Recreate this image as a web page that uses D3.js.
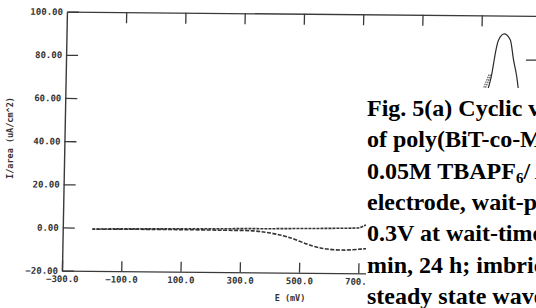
<!DOCTYPE html>
<html>
<head>
<meta charset="utf-8">
<script src="https://cdn.jsdelivr.net/npm/d3@7/dist/d3.min.js"></script>
<style>
  body { margin: 0; background: #fff; }
  svg { display: block; }
</style>
</head>
<body>
<svg id="chart" width="536" height="308"></svg>
<script>
// forward scan (E in mV, I in uA/cm^2)
var fwdE = [-200, -100, 0, 100, 200, 300, 400, 500, 600, 694, 724, 800, 900, 1000, 1060, 1100, 1128, 1138, 1143, 1150, 1158, 1177, 1198, 1210, 1222, 1227, 1245, 1265, 1290];
var fwdI = [-0.6, -0.4, -0.3, -0.1, 0, 0.2, 0.3, 0.5, 0.7, 1.0, 2.4, 6, 15, 30, 45, 57, 67, 73.2, 77.8, 84, 88.6, 91.5, 88.7, 79.5, 71.7, 67.1, 50, 30, 15];
// reverse scan
var revE = [1290, 1250, 1200, 1100, 1000, 900, 800, 724, 705, 655, 594, 546, 458, 401, 343, 231, 100, 0, -100, -200];
var revI = [10, 0, -3, -5, -7, -8.5, -9, -8.6, -8.8, -9.3, -8.9, -7.6, -3.4, -1.7, -0.8, -0.6, -0.5, -0.5, -0.6, -0.7];
// earlier cycles near the foot of the peak
var scan2E = [1100, 1117, 1125, 1133, 1137];
var scan2I = [60, 66.4, 69, 71.9, 73];
var scan3E = [1095, 1110, 1121, 1130];
var scan3I = [60, 66, 70, 73];
// short trace at right edge
var tailE = [1252, 1290];
var tailI = [79.5, 79.5];

var xTicks = [-300, -100, 100, 300, 500, 700];
var topTicks = [-100, 100, 300, 500, 700, 900, 1100];
var yTicks = [-20, 0, 20, 40, 60, 80, 100];

var captionLines = [
  "Fig. 5(a) Cyclic voltammograms",
  "of poly(BiT-co-MeT) film in",
  "0.05M TBAPF|6|/ ACN at Pt",
  "electrode, wait-potential:",
  "0.3V at wait-time of 0, 5",
  "min, 24 h; imbricated as",
  "steady state waves"
];

var zip = function(a, b) { return a.map((d, i) => ({ e: d, i: b[i] })); };

var svg = d3.select("#chart");

var x = d3.scaleLinear().domain([-300, 1300]).range([64.5, 538.6]);
var y = d3.scaleLinear().domain([-20, 100]).range([272, 13]);

// the scan is slightly sheared
var g = svg.append("g")
  .attr("transform", "matrix(1,0.009,-0.0193,1,2.7,-1.94)");

var monoFont = "'DejaVu Sans Mono', monospace";

var styleAxis = function(sel) {
  sel.select(".domain").attr("stroke", "#3a3a3a").attr("stroke-width", 1.4);
  sel.selectAll(".tick line").attr("stroke", "#3a3a3a").attr("stroke-width", 1.3);
  sel.selectAll(".tick text")
    .attr("fill", "#333")
    .style("font-family", monoFont)
    .style("font-weight", "bold")
    .style("font-size", "9px");
};

g.append("g")
  .attr("transform", "translate(" + x(-300) + ",0)")
  .call(d3.axisLeft(y).tickValues(yTicks).tickSizeInner(-12).tickSizeOuter(0)
    .tickPadding(4).tickFormat(d3.format(".2f")))
  .call(styleAxis);

g.append("g")
  .attr("transform", "translate(0," + y(-20) + ")")
  .call(d3.axisBottom(x).tickValues(xTicks).tickSizeInner(-10).tickSizeOuter(0)
    .tickPadding(5).tickFormat(d3.format(".1f")))
  .call(styleAxis);

g.append("g")
  .attr("transform", "translate(0," + y(100) + ")")
  .call(d3.axisTop(x).tickValues(topTicks).tickSizeInner(-11).tickSizeOuter(0)
    .tickFormat(""))
  .call(styleAxis);

var line = d3.line()
  .x(d => x(d.e))
  .y(d => y(d.i))
  .curve(d3.curveMonotoneX);

var lineRev = d3.line()
  .x(d => x(d.e))
  .y(d => y(d.i))
  .curve(d3.curveCatmullRom.alpha(0.5));

var fwd = zip(fwdE, fwdI);
var rev = zip(revE, revI);

g.append("path")
  .attr("fill", "none")
  .attr("stroke", "#333")
  .attr("stroke-width", 1.6)
  .attr("stroke-dasharray", "4,1.5")
  .attr("d", lineRev(rev));

g.append("path")
  .attr("fill", "none")
  .attr("stroke", "#333")
  .attr("stroke-width", 1.6)
  .attr("stroke-dasharray", "3,1")
  .attr("d", line(fwd.filter(d => d.e <= 900)));

g.append("path")
  .attr("fill", "none")
  .attr("stroke", "#2a2a2a")
  .attr("stroke-width", 1.2)
  .attr("d", line(fwd.filter(d => d.e >= 900)));

[zip(scan2E, scan2I), zip(scan3E, scan3I)].forEach(function(s) {
  g.append("path")
    .attr("fill", "none")
    .attr("stroke", "#444")
    .attr("stroke-width", 1.1)
    .attr("stroke-dasharray", "1.5,1")
    .attr("d", line(s));
});

g.append("path")
  .attr("fill", "none")
  .attr("stroke", "#333")
  .attr("stroke-width", 1.2)
  .attr("d", line(zip(tailE, tailI)));

// axis titles
svg.append("text")
  .attr("x", 290)
  .attr("y", 301)
  .attr("text-anchor", "middle")
  .attr("fill", "#333")
  .style("font-family", monoFont)
  .style("font-weight", "bold")
  .style("font-size", "8.5px")
  .text("E (mV)");

svg.append("text")
  .attr("transform", "translate(13,138) rotate(-90)")
  .attr("text-anchor", "middle")
  .attr("fill", "#333")
  .style("font-family", monoFont)
  .style("font-weight", "bold")
  .style("font-size", "8.5px")
  .text("I/area (uA/cm^2)");

// caption pasted over the plot
svg.append("rect")
  .attr("x", 366)
  .attr("y", 88)
  .attr("width", 536 - 366)
  .attr("height", 308 - 88)
  .attr("fill", "#fff");

var caption = svg.append("text")
  .attr("fill", "#000")
  .style("font-family", "'Liberation Serif', 'Times New Roman', serif")
  .style("font-weight", "bold")
  .style("font-size", "24px");

captionLines.forEach(function(s, k) {
  var t = caption.append("tspan").attr("x", 367).attr("y", 116 + k * 31.3);
  var parts = s.split("|");
  t.text(parts[0]);
  if (parts.length > 1) {
    caption.append("tspan").attr("dy", 4).style("font-size", "15px").text(parts[1]);
    caption.append("tspan").attr("dy", -4).text(parts[2]);
  }
});
</script>
</body>
</html>
